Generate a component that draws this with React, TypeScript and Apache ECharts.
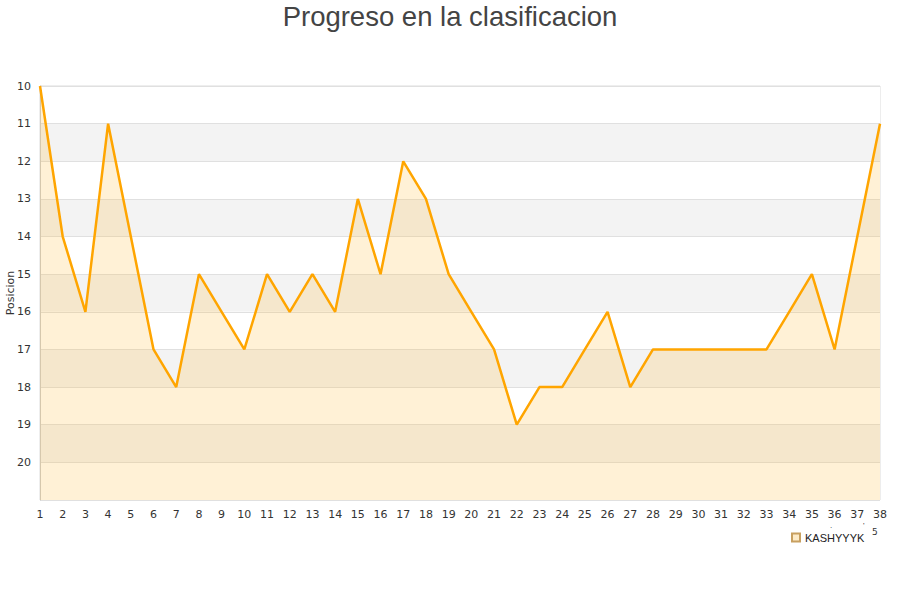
import React, { useEffect, useRef } from "react";
import * as echarts from "echarts";

const categories = Array.from({ length: 38 }, (_, i) => String(i + 1));
const positions = [10, 14, 16, 11, 14, 17, 18, 15, 16, 17, 15, 16, 15, 16, 13, 15, 12, 13, 15, 16, 17, 19, 18, 18, 17, 16, 18, 17, 17, 17, 17, 17, 17, 16, 15, 17, 14, 11];
const seriesName = "KASHYYYK";

export default function App() {
  const ref = useRef<HTMLDivElement>(null);
  useEffect(() => {
    if (!ref.current) return;
    const chart = echarts.init(ref.current, null, { renderer: "svg" });
    chart.setOption({
      animation: false,
      title: {
        text: "Progreso en la clasificacion",
        left: "center",
        top: -3,
        textStyle: { fontFamily: "Liberation Sans", fontSize: 27.5, fontWeight: "normal", color: "#444" },
      },
      legend: {
        data: [seriesName],
        left: 786,
        top: 527,
        icon: "rect",
        itemWidth: 8,
        itemHeight: 8,
        itemGap: 6,
        textStyle: { fontFamily: "Liberation Sans", fontSize: 11, color: "#222" },
      },
      graphic: [
        { type: "text", left: 872, top: 527, style: { text: "5", fontSize: 9, fill: "#333", fontFamily: "DejaVu Sans" } },
        { type: "text", left: 830, top: 521, style: { text: ".", fontSize: 8, fill: "#333" } },
        { type: "text", left: 863, top: 521, style: { text: "'", fontSize: 8, fill: "#333" } },
      ],
      grid: {
        left: 40, right: 20, top: 86, bottom: 100,
        outerBoundsMode: "none",
        containLabel: false,
        show: true, borderColor: "#dcdcdc", borderWidth: 1, backgroundColor: "transparent",
      },
      xAxis: {
        type: "category",
        data: categories,
        boundaryGap: false,
        axisLine: { show: false },
        axisTick: { show: false },
        axisLabel: { interval: 0, fontFamily: "DejaVu Sans", fontSize: 11, color: "#333", margin: 9 },
        splitLine: { show: false },
      },
      yAxis: {
        type: "value",
        inverse: true,
        min: 10,
        max: 21,
        interval: 1,
        name: "Posicion",
        nameLocation: "middle",
        nameGap: 24,
        nameMoveOverlap: false,
        nameTextStyle: { fontFamily: "DejaVu Sans", fontSize: 11, color: "#333" },
        axisLine: { show: true, lineStyle: { color: "#ccc" } },
        axisTick: { show: false },
        axisLabel: {
          fontFamily: "DejaVu Sans",
          fontSize: 11,
          color: "#333",
          margin: 9,
          formatter: (v: number) => (v === 21 ? "" : String(v)),
        },
        splitLine: { show: true, lineStyle: { color: "#e0e0e0" } },
        splitArea: { show: true, areaStyle: { color: ["#ffffff", "#f3f3f3"] } },
      },
      series: [
        {
          name: seriesName,
          type: "line",
          data: positions,
          symbol: "none",
          lineStyle: { color: "#ffa500", width: 2.5 },
          itemStyle: { color: "#fdebc8", borderColor: "#c8a060", borderWidth: 1 },
          areaStyle: { color: "rgba(255,190,60,0.3)", origin: "end" },
        },
      ],
    });
    return () => chart.dispose();
  }, []);
  return <div ref={ref} style={{ width: 900, height: 600, position: "absolute", left: 0, top: 0 }} />;
}
